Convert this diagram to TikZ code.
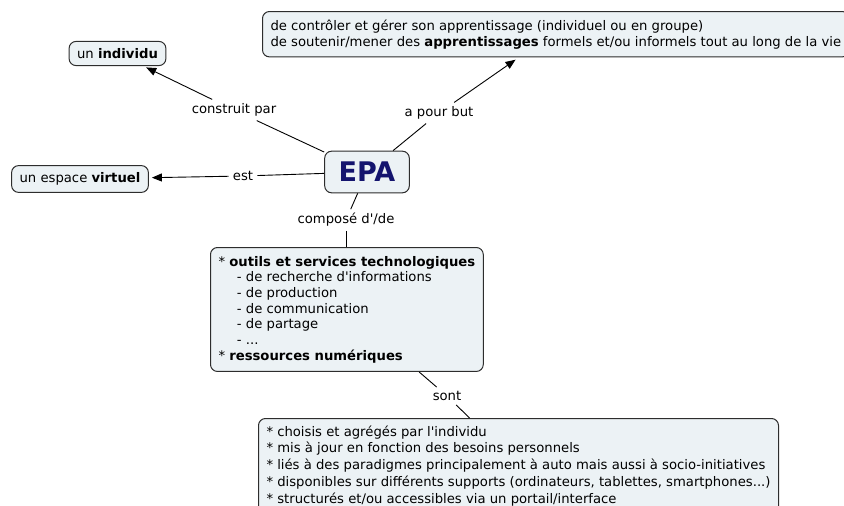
\documentclass[tikz,border=0pt]{standalone}
\usepackage{fontspec}
\setmainfont{DejaVu Sans}
\usetikzlibrary{arrows.meta}
\definecolor{boxfill}{RGB}{236,242,245}
\definecolor{boxline}{RGB}{45,45,45}
\definecolor{epablue}{RGB}{20,20,110}

\begin{document}
\begin{tikzpicture}[x=1pt,y=-1pt,
    concept/.style={draw=boxline,fill=boxfill,rounded corners=7pt,line width=1pt,
      inner xsep=8pt,inner ysep=7pt,align=left,font=\fontsize{13.2}{15.7}\selectfont},
    linklabel/.style={inner sep=4pt,font=\fontsize{13.2}{15}\selectfont},
    link/.style={line width=0.9pt},
    tip/.style={link,-{Triangle[length=10pt,width=8pt]},shorten >=3pt}]
    \clip (0,0) rectangle (844,506);
    % concepts
    \node[concept,font=\fontsize{27}{29}\selectfont\bfseries,text=epablue,inner xsep=14pt,inner ysep=11pt] (epa) at (367,172) {EPA};
    \node[concept] (individu) at (117.5,53.5) {un \textbf{individu}};
    \node[concept] (espace) at (80,179) {un espace \textbf{virtuel}};
    \node[concept,anchor=north west,inner ysep=8pt,font=\fontsize{13.2}{16}\selectfont] (but) at (262,11) {de contrôler et gérer son apprentissage (individuel ou en groupe)\\
      de soutenir/mener des \textbf{apprentissages} formels et/ou informels tout au long de la vie};
    \node[concept,anchor=north west,inner ysep=8.5pt] (outils) at (210,247) {* \textbf{outils et services technologiques}\\
      \hspace*{1.4em}- de recherche d\textquotesingle informations\\
      \hspace*{1.4em}- de production\\
      \hspace*{1.4em}- de communication\\
      \hspace*{1.4em}- de partage\\
      \hspace*{1.4em}- ...\\
      * \textbf{ressources numériques}};
    \node[concept,anchor=north west,font=\fontsize{13.2}{16.8}\selectfont] (traits) at (258,418) {* choisis et agrégés par l\textquotesingle individu\\
      * mis à jour en fonction des besoins personnels\\
      * liés à des paradigmes principalement à auto mais aussi à socio-initiatives\\
      * disponibles sur différents supports (ordinateurs, tablettes, smartphones...)\\
      * structurés et/ou accessibles via un portail/interface};
    % link labels
    \node[linklabel] (lconstruit) at (234,110) {construit par};
    \node[linklabel] (lbut) at (439,113) {a pour but};
    \node[linklabel] (lest) at (243,176) {est};
    \node[linklabel] (lcompose) at (346,220) {composé d\textquotesingle/de};
    \node[linklabel] (lsont) at (447,396) {sont};
    % connectors
    \draw[link] (epa) -- (lconstruit);
    \draw[tip] (lconstruit) -- (individu);
    \draw[link] (epa) -- (lest);
    \draw[tip] (lest) -- (espace);
    \draw[link] (epa) -- (lbut);
    \draw[tip] (lbut) -- (518,58);
    \draw[link] (epa) -- (lcompose);
    \draw[link] (lcompose) -- (outils.north -| lcompose);
    \draw[link] (outils) -- (lsont);
    \draw[link] (lsont) -- (traits);
\end{tikzpicture}
\end{document}
